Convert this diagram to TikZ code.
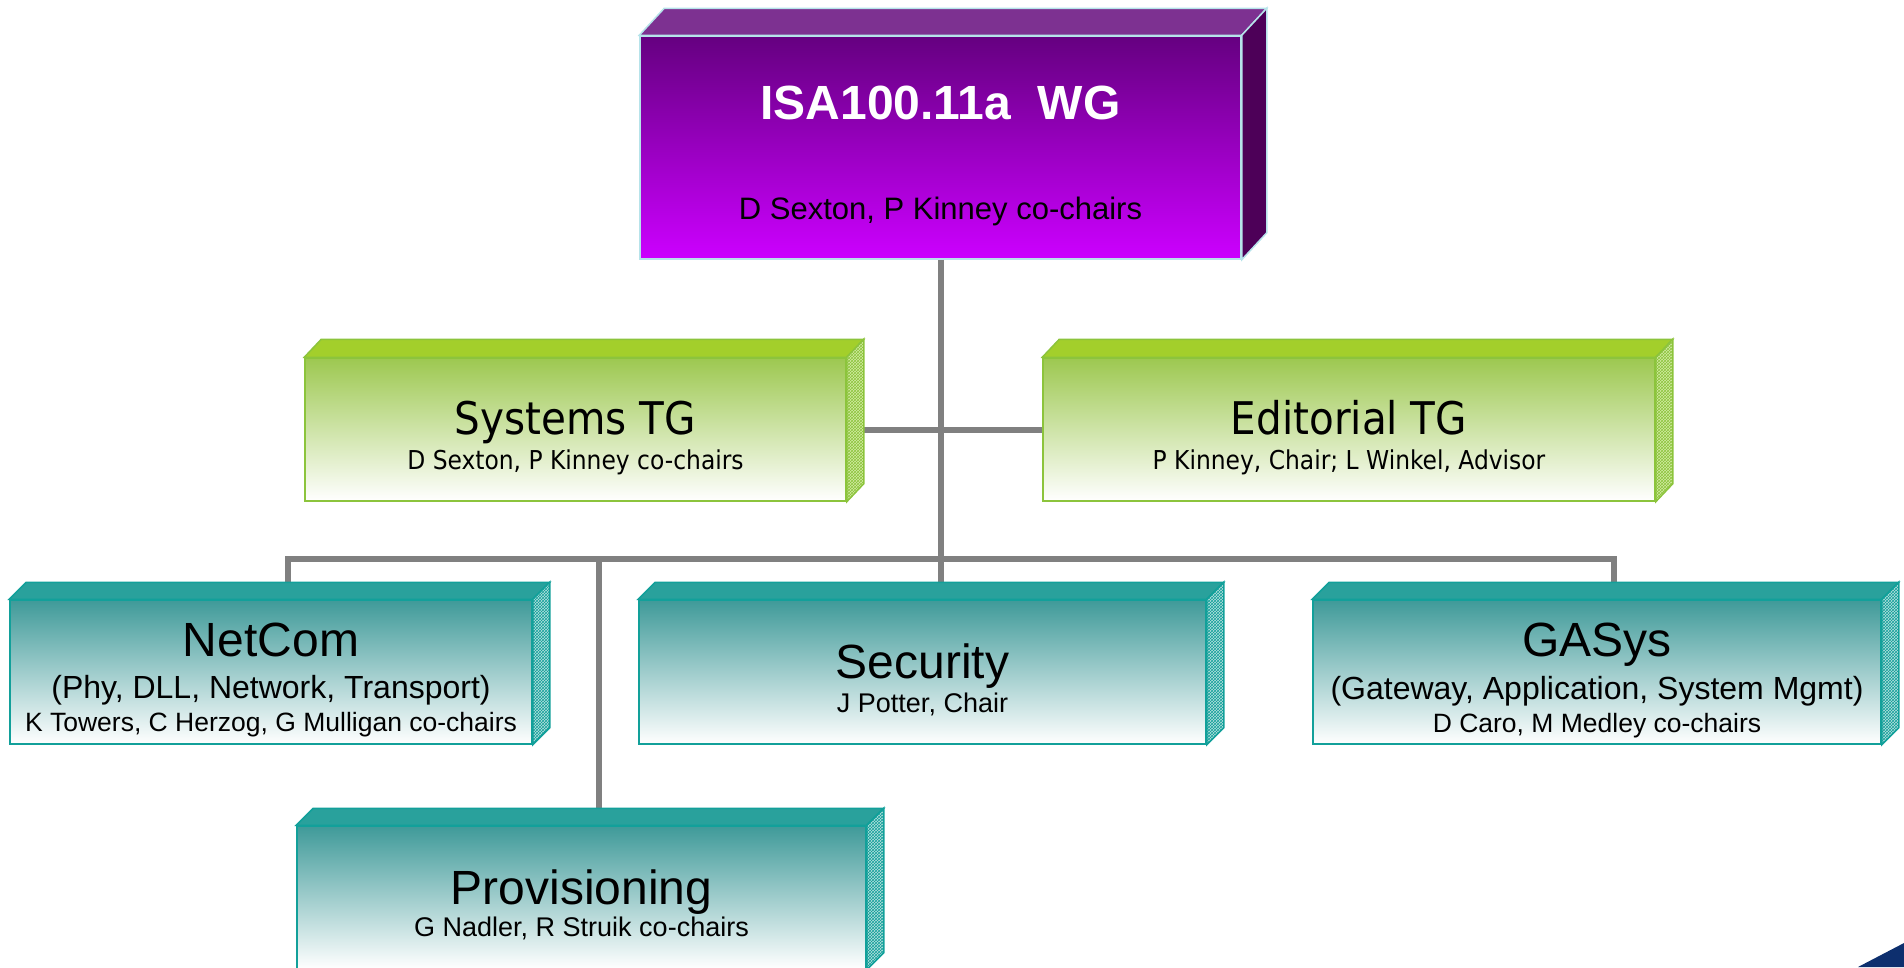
\documentclass[tikz,border=0pt]{standalone}
\usepackage{fontspec}
\setmainfont{Liberation Sans}
\newfontfamily\tgfont{DejaVu Sans Condensed}
\usetikzlibrary{patterns}

\definecolor{wgfront}{HTML}{650080}
\definecolor{wgbottom}{HTML}{CC00FF}
\definecolor{wgtop}{HTML}{7D3191}
\definecolor{wgside}{HTML}{4D0058}
\definecolor{wgedge}{HTML}{B6E3EA}
\definecolor{tgfront}{HTML}{9DC850}
\definecolor{tgtop}{HTML}{A3CF2B}
\definecolor{tgside}{HTML}{D3EBA4}
\definecolor{tgedge}{HTML}{8CC43C}
\definecolor{sgfront}{HTML}{3F9A99}
\definecolor{sgtop}{HTML}{29A19C}
\definecolor{sgside}{HTML}{B7E0DE}
\definecolor{sgedge}{HTML}{12A09A}
\definecolor{linkgray}{HTML}{808080}
\definecolor{cornernavy}{HTML}{0D2F6E}

\newcommand{\boxstrut}{\rule{0pt}{50pt}}
% top and right faces of a box: node, dx, dy, top style, side style
\newcommand{\boxdepth}[5]{%
  \filldraw[#4] (#1.north west) -- ++(#2,-#3) -- ([shift={(#2,-#3)}]#1.north east) -- (#1.north east) -- cycle;
  \filldraw[#5] (#1.north east) -- ++(#2,-#3) -- ([shift={(#2,-#3)}]#1.south east) -- (#1.south east) -- cycle;
}

\tikzset{
  wgbox/.style={draw=wgedge, line width=1.5pt, top color=wgfront, bottom color=wgbottom, inner sep=0pt, align=center},
  tgbox/.style={draw=tgedge, line width=1.5pt, top color=tgfront, bottom color=white, inner sep=0pt, align=center,
    minimum height=143pt, font=\tgfont\fontsize{26}{35}\selectfont},
  sgbox/.style={draw=sgedge, line width=1.5pt, top color=sgfront, bottom color=white, inner sep=0pt, align=center,
    minimum height=144pt},
  wgtopface/.style={fill=wgtop, draw=wgedge, line width=1.5pt},
  wgsideface/.style={fill=wgside, draw=wgedge, line width=1.5pt},
  tgtopface/.style={fill=tgtop, draw=tgedge, line width=1.5pt},
  tgsideface/.style={fill=tgside, draw=tgedge, line width=1.5pt, postaction={pattern=crosshatch, pattern color=tgedge}},
  sgtopface/.style={fill=sgtop, draw=sgedge, line width=1.5pt},
  sgsideface/.style={fill=sgside, draw=sgedge, line width=1.5pt, postaction={pattern=crosshatch, pattern color=sgedge}},
  link/.style={draw=linkgray, line width=6pt}
}

\begin{document}
\begin{tikzpicture}[x=1pt,y=-1pt]
\useasboundingbox (0,0) rectangle (1904,967);

\node[wgbox, minimum width=601pt, minimum height=223pt, font=\fontsize{31}{36}\selectfont] (wg) at (940.5,147.5)
  {\boxstrut{\color{white}\bfseries\fontsize{48}{48}\selectfont ISA100.11a\ \ WG}\\[64pt] D Sexton, P Kinney co-chairs};

\node[tgbox, minimum width=541pt] (sys) at (575.5,429.5)
  {\boxstrut{\fontsize{45}{45}\selectfont Systems TG}\\ D Sexton, P Kinney co-chairs};
\node[tgbox, minimum width=612pt] (edit) at (1349,429.5)
  {\boxstrut{\fontsize{45}{45}\selectfont Editorial TG}\\ P Kinney, Chair; L Winkel, Advisor};

\node[sgbox, minimum width=522pt, font=\fontsize{26.5}{33}\selectfont] (net) at (271,672)
  {\boxstrut{\fontsize{48}{48}\selectfont NetCom}\\[9pt] {\fontsize{32}{32}\selectfont (Phy, DLL, Network, Transport)}\\ K Towers, C Herzog, G Mulligan co-chairs};
\node[sgbox, minimum width=567pt, font=\fontsize{27}{34}\selectfont] (sec) at (922.5,672)
  {\boxstrut{\fontsize{48}{48}\selectfont Security}\\ J Potter, Chair};
\node[sgbox, minimum width=568pt, font=\fontsize{26.5}{33}\selectfont] (gas) at (1597,672)
  {\boxstrut{\fontsize{48}{48}\selectfont GASys}\\[9pt] {\fontsize{32}{32}\selectfont (Gateway, Application, System Mgmt)}\\ D Caro, M Medley co-chairs};
\node[sgbox, minimum width=569pt, minimum height=143pt, font=\fontsize{27}{32}\selectfont] (prov) at (581.5,897.5)
  {\boxstrut{\fontsize{48}{48}\selectfont Provisioning}\\ G Nadler, R Struik co-chairs};

% connectors
\coordinate (bus) at (0,559);
\coordinate (nettop) at ([xshift=17pt]net.north);
\coordinate (gastop) at ([xshift=17pt]gas.north);
\coordinate (provtop) at ([xshift=17pt]prov.north);
\draw[link] (wg.south) -- (wg.south |- sec.north);
\draw[link] (sys.east) -- (edit.west);
\draw[link] (nettop) -- (nettop |- bus) -- (gastop |- bus) -- (gastop);
\draw[link] (provtop) -- (provtop |- bus);

\boxdepth{wg}{25}{27}{wgtopface}{wgsideface}
\boxdepth{sys}{17}{18}{tgtopface}{tgsideface}
\boxdepth{edit}{17}{18}{tgtopface}{tgsideface}
\boxdepth{net}{17}{17}{sgtopface}{sgsideface}
\boxdepth{sec}{17}{17}{sgtopface}{sgsideface}
\boxdepth{gas}{17}{17}{sgtopface}{sgsideface}
\boxdepth{prov}{17}{17}{sgtopface}{sgsideface}

\fill[cornernavy] (1858,967) -- (1904,943) -- (1904,967) -- cycle;
\end{tikzpicture}
\end{document}
